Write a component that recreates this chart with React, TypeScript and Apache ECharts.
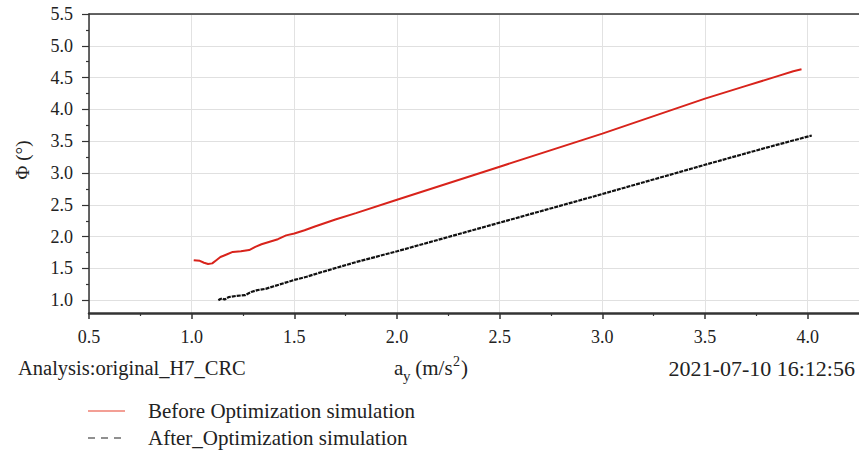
import React, { useEffect, useRef } from "react";
import * as echarts from "echarts";

// ---- data ----
const xTicks = [0.5, 1.0, 1.5, 2.0, 2.5, 3.0, 3.5, 4.0];
const xMinorTicks = [0.75, 1.25, 1.75, 2.25, 2.75, 3.25, 3.75];
const yTicks = [1.0, 1.5, 2.0, 2.5, 3.0, 3.5, 4.0, 4.5, 5.0, 5.5];
const yMinorTicks = [1.25, 1.75, 2.25, 2.75, 3.25, 3.75, 4.25, 4.75, 5.25];

const beforeX = [1.01, 1.04, 1.06, 1.08, 1.1, 1.12, 1.14, 1.17, 1.2, 1.24, 1.28, 1.31, 1.34, 1.38, 1.42, 1.46, 1.5, 1.55, 1.6, 1.7, 1.8, 2.0, 2.5, 3.0, 3.5, 3.7, 3.85, 3.93, 3.97];
const beforeY = [1.63, 1.62, 1.59, 1.57, 1.58, 1.63, 1.68, 1.72, 1.76, 1.77, 1.79, 1.84, 1.88, 1.92, 1.96, 2.02, 2.05, 2.1, 2.16, 2.27, 2.37, 2.58, 3.1, 3.62, 4.17, 4.37, 4.52, 4.6, 4.63];

const afterX = [1.13, 1.14, 1.15, 1.16, 1.18, 1.22, 1.26, 1.29, 1.32, 1.36, 1.4, 1.45, 1.5, 1.56, 1.62, 1.8, 2.0, 2.5, 3.0, 3.5, 3.8, 4.02];
const afterY = [1.0, 1.02, 1.03, 1.01, 1.05, 1.07, 1.08, 1.13, 1.16, 1.18, 1.22, 1.27, 1.32, 1.37, 1.43, 1.6, 1.77, 2.22, 2.67, 3.13, 3.4, 3.59];

const seriesNames = ["Before Optimization simulation", "After_Optimization simulation"];
const footerLeft = "Analysis:original_H7_CRC";
const footerRight = "2021-07-10 16:12:56";

const FAMILY = "Liberation Serif";

export default function App() {
  const ref = useRef<HTMLDivElement>(null);
  useEffect(() => {
    if (!ref.current) return;
    const chart = echarts.init(ref.current, undefined, { renderer: "svg" });
    const pair = (xs: number[], ys: number[]) => xs.map((x, i) => [x, ys[i]]);
    const fmt = (v: number) => v.toFixed(1);
    const axisDark = "#333";
    const txt = (size: number) => ({ fontFamily: FAMILY, fontSize: size, fill: "#222" });
    chart.setOption({
      animation: false,
      backgroundColor: "#fff",
      textStyle: { fontFamily: FAMILY },
      grid: { left: 89, right: 0, top: 14, bottom: 140, containLabel: false, outerBoundsMode: "none" },
      xAxis: [
        {
          type: "value", min: 0.5, max: 4.25, position: "bottom",
          axisLine: { show: true, lineStyle: { color: axisDark, width: 2.5 } },
          axisTick: { show: true, customValues: xTicks, length: 6, lineStyle: { color: axisDark, width: 1.5 } },
          axisLabel: { show: true, customValues: xTicks, formatter: fmt, margin: 15, fontSize: 18, color: "#222", fontFamily: FAMILY },
          splitLine: { show: true, lineStyle: { color: "#e2e2e2", width: 1 } },
        },
        {
          type: "value", min: 0.5, max: 4.25, position: "bottom",
          axisLine: { show: false },
          axisTick: { show: true, customValues: xMinorTicks, length: 3, lineStyle: { color: axisDark, width: 1.2 } },
          axisLabel: { show: false },
          splitLine: { show: false },
        },
        {
          type: "value", min: 0.5, max: 4.25, position: "top",
          axisLine: { show: true, lineStyle: { color: axisDark, width: 1.5 } },
          axisTick: { show: false },
          axisLabel: { show: false },
          splitLine: { show: false },
        },
      ],
      yAxis: [
        {
          type: "value", min: 0.8, max: 5.5, position: "left",
          axisLine: { show: true, lineStyle: { color: axisDark, width: 1.5 } },
          axisTick: { show: true, customValues: yTicks, length: 7, lineStyle: { color: axisDark, width: 1.2 } },
          axisLabel: { show: true, customValues: yTicks, formatter: fmt, margin: 16, fontSize: 18, color: "#222", fontFamily: FAMILY },
          splitLine: { show: true, lineStyle: { color: "#e0e0e0", width: 1 } },
        },
        {
          type: "value", min: 0.8, max: 5.5, position: "left",
          axisLine: { show: false },
          axisTick: { show: true, customValues: yMinorTicks, length: 3, lineStyle: { color: axisDark, width: 1.2 } },
          axisLabel: { show: false },
          splitLine: { show: false },
        },
      ],
      series: [
        {
          name: seriesNames[0], type: "line", xAxisIndex: 0, yAxisIndex: 0,
          data: pair(beforeX, beforeY), showSymbol: false, symbol: "none",
          lineStyle: { color: "#d8231b", width: 2 },
        },
        {
          name: seriesNames[1], type: "line", xAxisIndex: 0, yAxisIndex: 0,
          data: pair(afterX, afterY), showSymbol: false, symbol: "none",
          lineStyle: { color: "#111", width: 2.2, type: [4, 1] },
        },
      ],
      graphic: [
        {
          type: "text", x: 22, y: 160, rotation: Math.PI / 2,
          style: { text: "Φ (°)", ...txt(19), textAlign: "center", textVerticalAlign: "middle" },
        },
        {
          type: "text", x: 18, y: 368,
          style: { text: footerLeft, ...txt(20.5), textAlign: "left", textVerticalAlign: "middle" },
        },
        {
          type: "text", x: 855, y: 368,
          style: { text: footerRight, ...txt(22), textAlign: "right", textVerticalAlign: "middle" },
        },
        {
          type: "group", x: 394, y: 368,
          children: [
            { type: "text", x: 0, y: 0, style: { text: "a", ...txt(21), textVerticalAlign: "middle" } },
            { type: "text", x: 9, y: 8, style: { text: "y", ...txt(15), textVerticalAlign: "middle" } },
            { type: "text", x: 16, y: 0, style: { text: " (m/s", ...txt(21), textVerticalAlign: "middle" } },
            { type: "text", x: 59, y: -7, style: { text: "2", ...txt(14), textVerticalAlign: "middle" } },
            { type: "text", x: 67, y: 0, style: { text: ")", ...txt(21), textVerticalAlign: "middle" } },
          ],
        },
        {
          type: "line", shape: { x1: 88, y1: 411, x2: 125, y2: 411 },
          style: { stroke: "#e8412c", lineWidth: 1.2 },
        },
        {
          type: "text", x: 148, y: 411,
          style: { text: seriesNames[0], ...txt(21), textVerticalAlign: "middle" },
        },
        {
          type: "line", shape: { x1: 88, y1: 438, x2: 125, y2: 438 },
          style: { stroke: "#222", lineWidth: 1.2, lineDash: [7, 6] },
        },
        {
          type: "text", x: 148, y: 438,
          style: { text: seriesNames[1], ...txt(21), textVerticalAlign: "middle" },
        },
      ],
    });
    return () => chart.dispose();
  }, []);
  return <div ref={ref} style={{ position: "absolute", left: 0, top: 0, width: 859, height: 453 }} />;
}
